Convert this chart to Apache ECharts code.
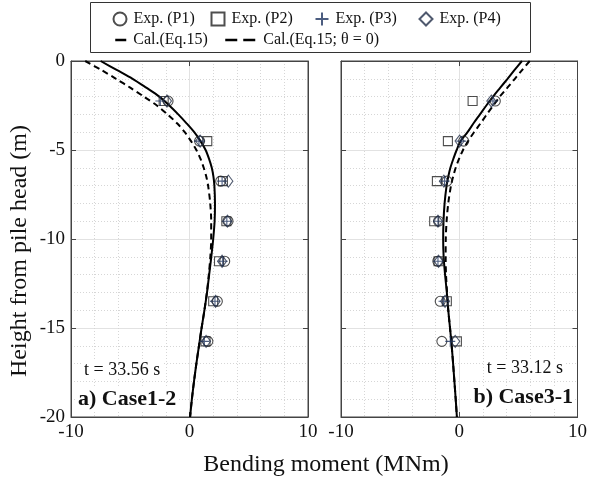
<!DOCTYPE html>
<html><head><meta charset="utf-8">
<script src="https://cdn.jsdelivr.net/npm/echarts@6/dist/echarts.min.js"></script>
<style>html,body{margin:0;padding:0;background:#fff}#c{width:590px;height:478px}</style>
</head><body><div id="c"></div>
<script>
// ---- data ----
const expDepth = [-2.25, -4.5, -6.75, -9, -11.25, -13.5, -15.75];
// Case1-2
const c12_P1 = [-1.81, 0.85, 2.63, 3.25, 2.97, 2.35, 1.55];
const c12_P2 = [-2.18, 1.5, 2.82, 3.11, 2.49, 2.0, 1.35];
const c12_P3 = [-2.46, 0.8, 2.75, 3.15, 2.8, 2.15, 1.25];
const c12_P4 = [-1.9, 0.9, 3.28, 3.2, 2.75, 2.2, 1.4];
// Case3-1
const c31_P1 = [3.05, 0.37, -1.04, -1.75, -1.81, -1.61, -1.47];
const c31_P2 = [1.13, -0.96, -1.89, -2.12, -1.75, -1.05, -0.2];
const c31_P3 = [2.85, 0.17, -1.24, -1.8, -1.8, -1.33, -0.76];
const c31_P4 = [2.71, 0.03, -1.3, -1.8, -1.75, -1.2, -0.34];

const calDepth = [0, -0.5, -1, -1.5, -2, -2.5, -3, -3.5, -4, -4.5, -5, -5.5, -6, -6.5, -7, -8, -9, -10, -11, -12, -13, -14, -15, -16, -17, -18, -19, -20];
const c12_cal  = [-7.5, -6.15, -4.8, -3.65, -2.55, -1.7, -0.95, -0.25, 0.4, 0.93, 1.36, 1.65, 1.88, 2.02, 2.1, 2.15, 2.12, 2.0, 1.84, 1.66, 1.48, 1.26, 1.02, 0.8, 0.58, 0.38, 0.2, 0.05];
const c12_cal0 = [-8.8, -7.45, -6.2, -5.0, -3.85, -2.75, -1.85, -1.05, -0.4, 0.13, 0.58, 0.93, 1.2, 1.42, 1.57, 1.75, 1.83, 1.83, 1.76, 1.63, 1.47, 1.26, 1.02, 0.8, 0.58, 0.38, 0.2, 0.05];
const c31_cal  = [5.3, 4.68, 4.08, 3.47, 2.86, 2.29, 1.75, 1.21, 0.7, 0.12, -0.22, -0.5, -0.75, -0.93, -1.07, -1.24, -1.33, -1.36, -1.32, -1.2, -1.05, -0.93, -0.78, -0.64, -0.52, -0.41, -0.3, -0.2];
const c31_cal0 = [5.96, 5.33, 4.7, 4.07, 3.43, 2.88, 2.33, 1.8, 1.25, 0.75, 0.32, -0.02, -0.3, -0.52, -0.7, -0.93, -1.07, -1.14, -1.15, -1.12, -1.03, -0.93, -0.78, -0.64, -0.52, -0.41, -0.3, -0.2];

const xTicks = [-10, 0, 10];
const yTicks = [0, -5, -10, -15, -20];
const expNames = ['Exp. (P1)', 'Exp. (P2)', 'Exp. (P3)', 'Exp. (P4)'];
const calNames = ['Cal.(Eq.15)', 'Cal.(Eq.15; θ = 0)'];
const panelLabels = ['a) Case1-2', 'b) Case3-1'];
const timeLabels = ['t = 33.56 s', 't = 33.12 s'];
const xTitle = 'Bending moment (MNm)';
const yTitle = 'Height from pile head (m)';

// ---- styling ----
const FONT = 'Liberation Serif';
const grids = [
  {left: 71, top: 61, width: 237, height: 356},
  {left: 341, top: 61, width: 237, height: 356}
];
const zip = (xs, ys) => xs.map((v, i) => [v, ys[i]]);

function xAxis(gi, pos) {
  const main = pos === 'bottom';
  return {
    type: 'value', gridIndex: gi, position: pos,
    min: xTicks[0], max: xTicks[xTicks.length - 1], interval: 10,
    axisLine: {show: true, onZero: false, lineStyle: {color: '#444', width: 1}},
    axisTick: {show: true, inside: true, length: 5, lineStyle: {color: '#444'}},
    axisLabel: {show: main, color: '#111', fontFamily: FONT, fontSize: 19, margin: 6},
    minorTick: {show: false, splitNumber: 5},
    splitLine: {show: main, lineStyle: {color: '#e2e2e2', width: 1}},
    minorSplitLine: {show: main, lineStyle: {color: '#d6d6d6', width: 1, type: [1, 2]}}
  };
}
function yAxis(gi, pos) {
  const main = pos === 'left';
  return {
    type: 'value', gridIndex: gi, position: pos,
    min: yTicks[yTicks.length - 1], max: yTicks[0], interval: 5,
    axisLine: {show: true, onZero: false, lineStyle: {color: '#444', width: 1}},
    axisTick: {show: true, inside: true, length: 5, lineStyle: {color: '#444'}},
    axisLabel: {show: main && gi === 0, color: '#111', fontFamily: FONT, fontSize: 19, margin: 6},
    minorTick: {show: false, splitNumber: 5},
    splitLine: {show: main, lineStyle: {color: '#e2e2e2', width: 1}},
    minorSplitLine: {show: main, lineStyle: {color: '#d6d6d6', width: 1, type: [1, 2]}}
  };
}

const symbols = [
  {symbol: 'circle', size: 10, color: '#222'},
  {symbol: 'rect', size: 9, color: '#222'},
  {symbol: 'path://M0,5L10,5M5,0L5,10', size: 10, color: '#1f3560'},
  {symbol: 'diamond', size: [9, 12], color: '#23304a'}
];

const panels = [
  {exp: [c12_P1, c12_P2, c12_P3, c12_P4], cal: c12_cal, cal0: c12_cal0},
  {exp: [c31_P1, c31_P2, c31_P3, c31_P4], cal: c31_cal, cal0: c31_cal0}
];

const series = [];
panels.forEach((p, gi) => {
  series.push({
    name: calNames[0], type: 'line', xAxisIndex: gi, yAxisIndex: gi,
    data: zip(p.cal, calDepth), smooth: 0.3, symbol: 'none', showSymbol: false,
    lineStyle: {color: '#000', width: 2}, itemStyle: {color: '#000'}, z: 3
  });
  series.push({
    name: calNames[1], type: 'line', xAxisIndex: gi, yAxisIndex: gi,
    data: zip(p.cal0, calDepth), smooth: 0.3, symbol: 'none', showSymbol: false,
    lineStyle: {color: '#000', width: 2, type: [6, 4]}, itemStyle: {color: '#000'}, z: 3
  });
  p.exp.forEach((vals, k) => {
    const s = symbols[k];
    series.push({
      name: expNames[k], type: 'scatter', xAxisIndex: gi, yAxisIndex: gi,
      data: zip(vals, expDepth), symbol: s.symbol, symbolSize: s.size,
      itemStyle: {color: 'rgba(0,0,0,0)', borderColor: s.color, borderWidth: 1.1},
      z: 4
    });
  });
});

const legendText = {fontFamily: FONT, fontSize: 16, color: '#111', padding: [0, 0, 0, 2]};
const expIconCenters = [114, 212, 316, 420];
const legends = expNames.map((n, k) => ({
  data: [n], left: expIconCenters[k] - 6.5, top: 6, itemWidth: 13, itemHeight: 13,
  textStyle: legendText, selectedMode: false
}));
legends.push({data: [calNames[0]], left: 109, top: 27, itemWidth: 11, itemHeight: 14,
  itemStyle: {color: 'rgba(0,0,0,0)', borderWidth: 0},
  lineStyle: {width: 2.5},
  textStyle: legendText, selectedMode: false});
legends.push({data: [calNames[1]], left: 219, top: 27, itemWidth: 31, itemHeight: 14,
  itemStyle: {color: 'rgba(0,0,0,0)', borderWidth: 0},
  lineStyle: {width: 2.5, type: [12, 6]},
  textStyle: legendText, selectedMode: false});

const option = {
  backgroundColor: '#fff',
  animation: false,
  grid: grids.map(g => Object.assign({show: true, borderColor: '#444', borderWidth: 1, backgroundColor: 'transparent'}, g)),
  xAxis: [xAxis(0, 'bottom'), xAxis(1, 'bottom'), xAxis(0, 'top'), xAxis(1, 'top')],
  yAxis: [yAxis(0, 'left'), yAxis(1, 'left'), yAxis(0, 'right'), yAxis(1, 'right')],
  legend: legends,
  graphic: [
    {type: 'rect', shape: {x: 90.5, y: 2.5, width: 440, height: 50},
     style: {fill: 'none', stroke: '#333', lineWidth: 1}, z: 10},
    {type: 'text', x: 20, y: 251, rotation: Math.PI / 2,
     style: {text: yTitle, font: '24px "Liberation Serif"', fill: '#111', align: 'center', verticalAlign: 'middle'}},
    {type: 'text', x: 326, y: 465,
     style: {text: xTitle, font: '24px "Liberation Serif"', fill: '#111', align: 'center', verticalAlign: 'middle'}},
    {type: 'text', x: 82, y: 370, z: 20,
     style: {text: timeLabels[0], font: '18px "Liberation Serif"', fill: '#111', align: 'left', verticalAlign: 'middle',
             backgroundColor: '#fff', padding: [0, 2]}},
    {type: 'text', x: 76, y: 399, z: 20,
     style: {text: panelLabels[0], font: 'bold 22px "Liberation Serif"', fill: '#111', align: 'left', verticalAlign: 'middle',
             backgroundColor: '#fff', padding: [0, 2]}},
    {type: 'text', x: 565, y: 368, z: 20,
     style: {text: timeLabels[1], font: '18px "Liberation Serif"', fill: '#111', align: 'right', verticalAlign: 'middle',
             backgroundColor: '#fff', padding: [0, 2]}},
    {type: 'text', x: 575, y: 397, z: 20,
     style: {text: panelLabels[1], font: 'bold 22px "Liberation Serif"', fill: '#111', align: 'right', verticalAlign: 'middle',
             backgroundColor: '#fff', padding: [0, 2]}}
  ],
  series: series
};

const chart = echarts.init(document.getElementById('c'), null, {renderer: 'canvas'});
chart.setOption(option);
</script>
</body></html>
